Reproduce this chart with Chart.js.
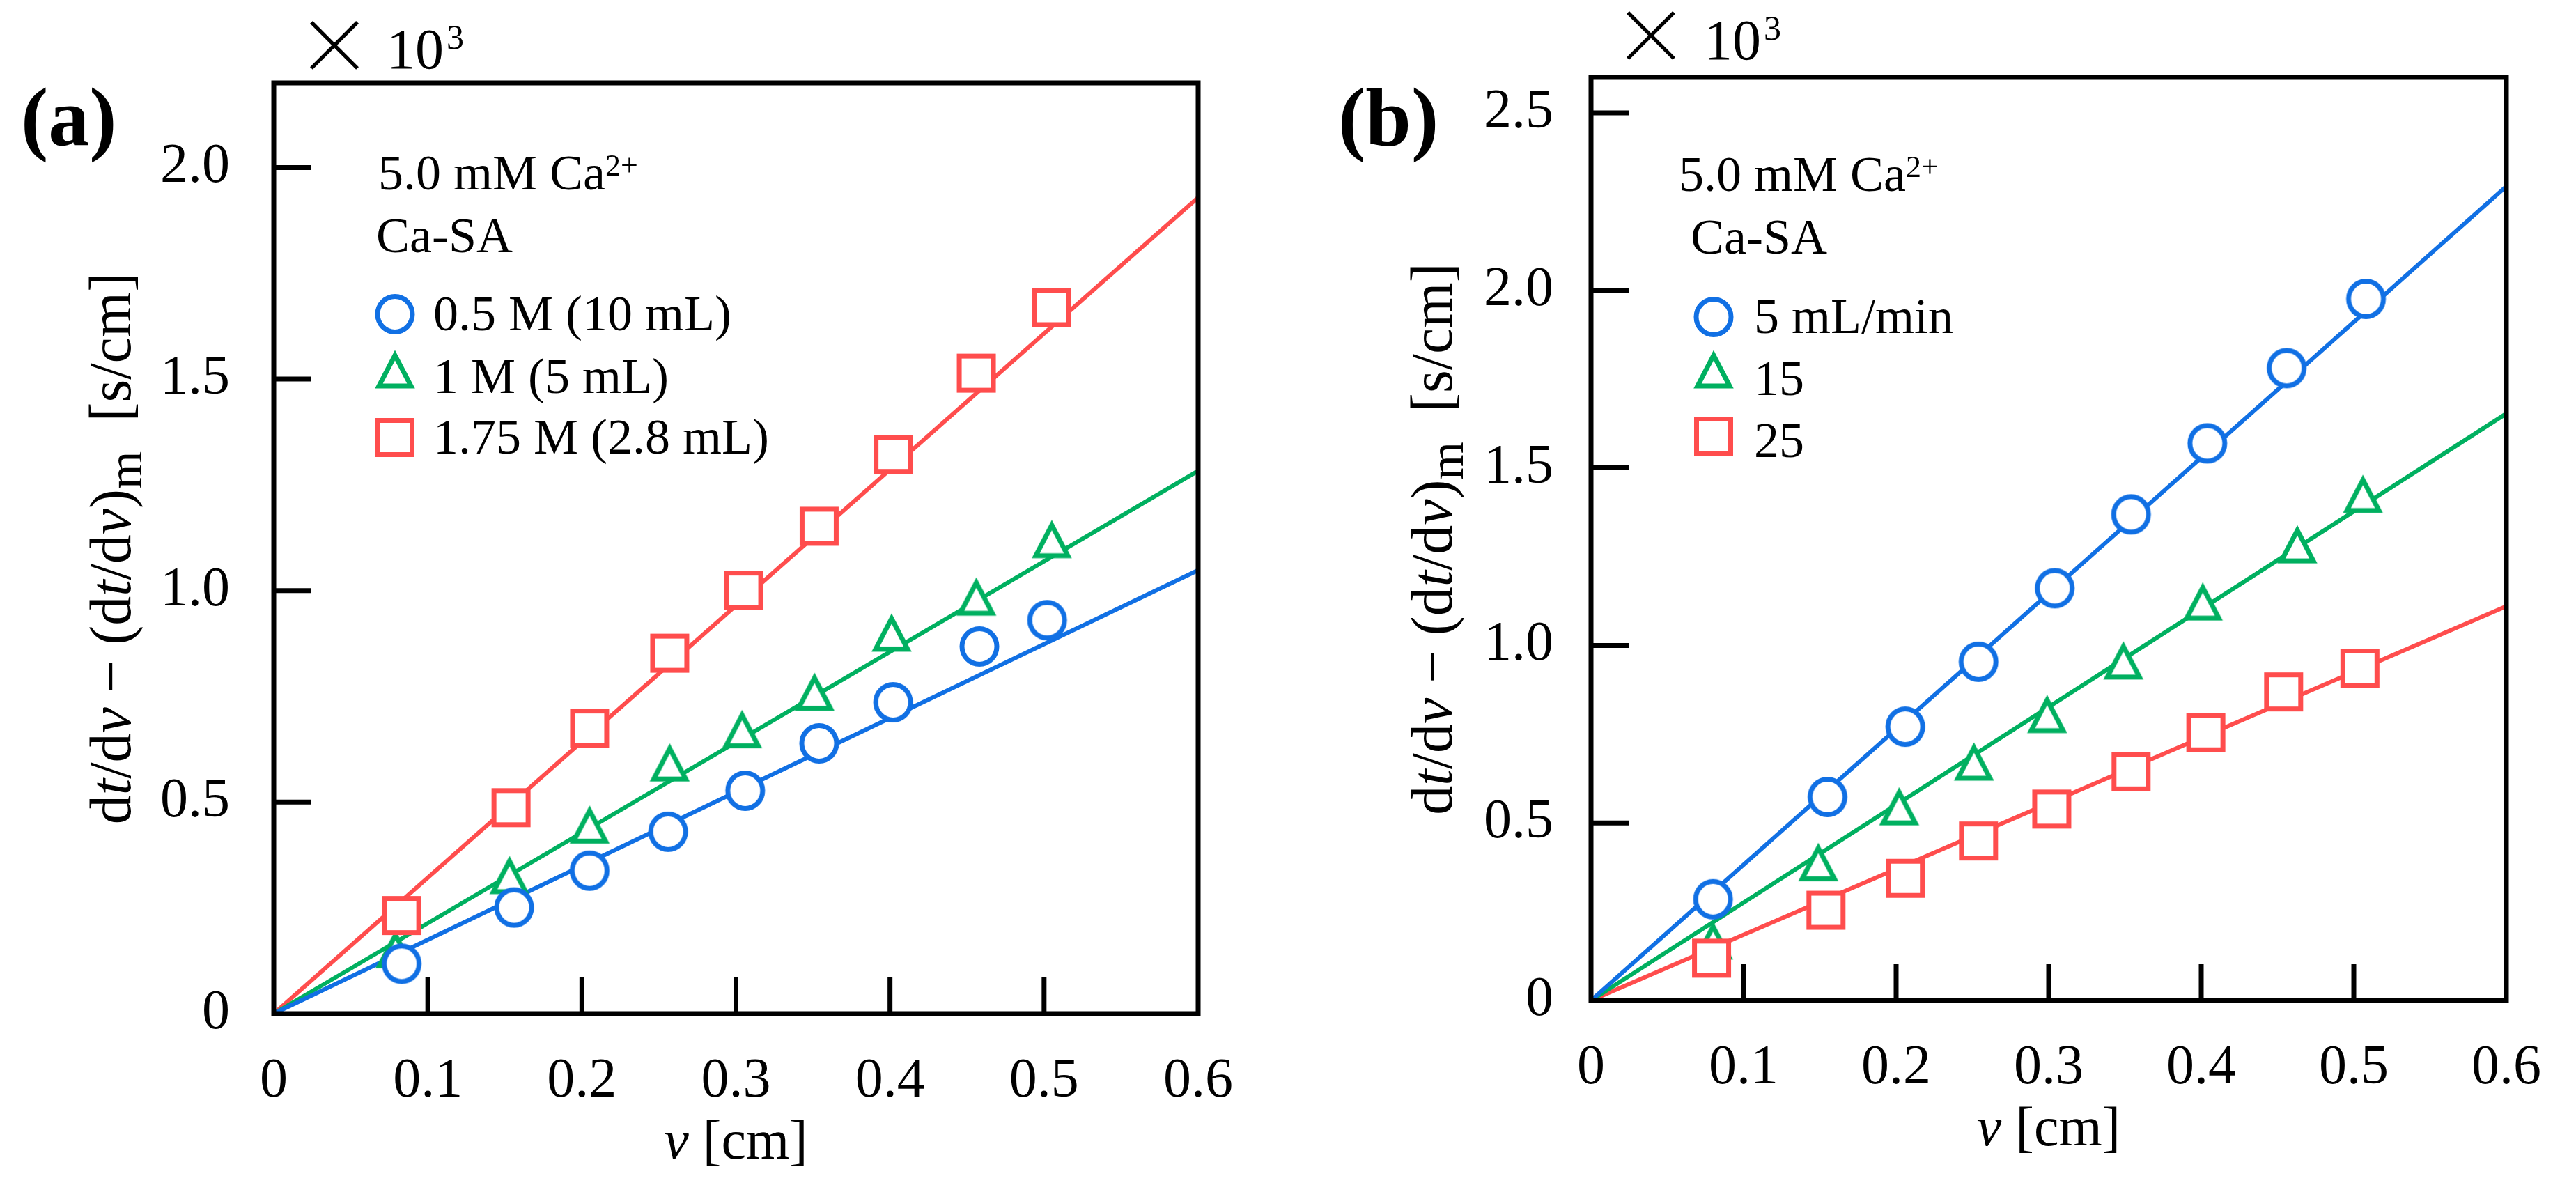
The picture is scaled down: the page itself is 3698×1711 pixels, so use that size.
<!DOCTYPE html>
<html><head><meta charset="utf-8">
<script src="https://cdn.jsdelivr.net/npm/chart.js@4.4.0/dist/chart.umd.min.js"></script>
<style>
html,body{margin:0;padding:0;background:#fff;width:3698px;height:1711px;overflow:hidden}
canvas{position:absolute;top:0}
#ca{left:0}#cb{left:1849px}
</style></head>
<body>
<canvas id="ca" width="1849" height="1711"></canvas>
<canvas id="cb" width="1849" height="1711"></canvas>
<script>
// ---------- data ----------
const xTicks = [0, 0.1, 0.2, 0.3, 0.4, 0.5, 0.6];
const xTickLabels = ['0', '0.1', '0.2', '0.3', '0.4', '0.5', '0.6'];
const yTicksA = [0, 0.5, 1.0, 1.5, 2.0];
const yTickLabelsA = ['0', '0.5', '1.0', '1.5', '2.0'];
const yTicksB = [0, 0.5, 1.0, 1.5, 2.0, 2.5];
const yTickLabelsB = ['0', '0.5', '1.0', '1.5', '2.0', '2.5'];
const xMax = 0.6, yMaxA = 2.2, yMaxB = 2.6;
const fitX = [0, 0.6];

// panel (a)
const aLabels = ['0.5 M (10 mL)', '1 M (5 mL)', '1.75 M (2.8 mL)'];
const aCircleX = [0.083, 0.156, 0.205, 0.256, 0.306, 0.354, 0.402, 0.458, 0.502];
const aCircleY = [0.118, 0.251, 0.338, 0.430, 0.527, 0.639, 0.736, 0.868, 0.930];
const aTriX = [0.079, 0.153, 0.205, 0.257, 0.304, 0.351, 0.401, 0.456, 0.505];
const aTriY = [0.153, 0.328, 0.447, 0.594, 0.673, 0.761, 0.901, 0.986, 1.122];
const aSqX = [0.083, 0.154, 0.205, 0.257, 0.305, 0.354, 0.402, 0.456, 0.505];
const aSqY = [0.232, 0.487, 0.675, 0.852, 1.001, 1.152, 1.322, 1.514, 1.669];
const aFitY = [[0, 1.048], [0, 1.283], [0, 1.929]];

// panel (b)
const bLabels = ['5 mL/min', '15', '25'];
const bCircleX = [0.080, 0.155, 0.206, 0.254, 0.304, 0.354, 0.404, 0.456, 0.508];
const bCircleY = [0.285, 0.573, 0.771, 0.954, 1.161, 1.369, 1.569, 1.781, 1.976];
const bTriX = [0.080, 0.149, 0.202, 0.251, 0.299, 0.349, 0.401, 0.463, 0.506];
const bTriY = [0.169, 0.390, 0.547, 0.673, 0.807, 0.958, 1.124, 1.285, 1.427];
const bSqX = [0.079, 0.154, 0.206, 0.254, 0.302, 0.354, 0.403, 0.454, 0.504];
const bSqY = [0.119, 0.254, 0.344, 0.449, 0.539, 0.644, 0.754, 0.869, 0.936];
const bFitY = [[0, 2.293], [0, 1.653], [0, 1.110]];

const headerMain = '5.0 mM Ca';
const headerSup = '2+';
const headerLine2 = 'Ca-SA';
const scaleFactorBase = '10';
const scaleFactorExp = '3';

// ---------- styles ----------
const BLUE = '#1170e4', GREEN = '#00b060', RED = '#ff4d4d';
const FONT = '"Liberation Serif", "Times New Roman", serif';

function marker(shape, color) {
  const c = document.createElement('canvas');
  c.width = 72; c.height = 72;
  const g = c.getContext('2d');
  g.lineWidth = 7; g.strokeStyle = color; g.fillStyle = '#fff';
  g.translate(36, 36);
  g.beginPath();
  if (shape === 'circle') g.ellipse(0, 0, 25, 25.5, 0, 0, Math.PI * 2);
  else if (shape === 'triangle') { g.moveTo(0, -20); g.lineTo(23, 24); g.lineTo(-23, 24); g.closePath(); }
  else g.rect(-24.5, -24.5, 49, 49);
  g.fill(); g.stroke();
  return c;
}
const mk = {
  circle: marker('circle', BLUE),
  triangle: marker('triangle', GREEN),
  square: marker('square', RED)
};

function pts(xs, ys) { return xs.map((x, i) => ({x: x, y: ys[i]})); }

// segment: [text, kind, size, dy]; kind: '' | 'i' | 'b' | 'script'
function rich(ctx, segs, x, y, align, size) {
  const fontOf = s => {
    const k = s[1] || '';
    let sz = size, style = '', weight = '';
    if (k === 'i') style = 'italic ';
    if (k === 'b') weight = 'bold ';
    if (k === 'script') sz = s[2] || size * 0.62;
    return style + weight + sz + 'px ' + FONT;
  };
  let total = 0;
  const ws = segs.map(s => { ctx.font = fontOf(s); const w = ctx.measureText(s[0]).width; total += w; return w; });
  let cx = align === 'center' ? x - total / 2 : (align === 'right' ? x - total : x);
  ctx.textAlign = 'left';
  ctx.textBaseline = 'alphabetic';
  segs.forEach((s, i) => {
    ctx.font = fontOf(s);
    ctx.fillText(s[0], cx, y + (s[3] || 0));
    cx += ws[i];
  });
}

const yTitle = [['d'], ['t', 'i'], ['/d'], ['v', 'i'], [' \u2212 (d'], ['t', 'i'], ['/d'], ['v', 'i'], [')'], ['m', 'script', 70, 16], ['  [s/cm]']];
const xTitle = [['v', 'i'], [' [cm]']];

function decoPlugin(d) {
  return {
    id: 'deco',
    afterDatasetsDraw(chart) {
      const ctx = chart.ctx, a = chart.chartArea;
      const xs = chart.scales.x, ys = chart.scales.y;
      ctx.save();
      ctx.fillStyle = '#000';
      ctx.strokeStyle = '#000';
      // frame
      ctx.lineWidth = 7;
      ctx.strokeRect(a.left, a.top, a.right - a.left, a.bottom - a.top);
      // inward ticks
      ctx.lineWidth = 7;
      ctx.beginPath();
      xTicks.forEach(v => {
        if (v <= 0 || v >= xMax) return;
        const p = xs.getPixelForValue(v);
        ctx.moveTo(p, a.bottom); ctx.lineTo(p, a.bottom - 52);
      });
      d.yTicks.forEach(v => {
        if (v <= 0) return;
        const p = ys.getPixelForValue(v);
        ctx.moveTo(a.left, p); ctx.lineTo(a.left + 54, p);
      });
      ctx.stroke();
      // panel letter
      ctx.font = 'bold 118px ' + FONT;
      ctx.textAlign = 'left'; ctx.textBaseline = 'alphabetic';
      ctx.fillText(d.panel, d.panelX, 208);
      // x 10^3
      ctx.font = '200 110px "Noto Sans CJK JP", "DejaVu Sans", sans-serif';
      ctx.textAlign = 'center'; ctx.textBaseline = 'middle';
      ctx.fillText('\u00d7', d.timesX, d.timesY);
      ctx.textAlign = 'left'; ctx.textBaseline = 'alphabetic';
      ctx.font = '82px ' + FONT;
      ctx.fillText(scaleFactorBase, d.tenX, d.tenBase);
      const tw = ctx.measureText(scaleFactorBase).width;
      ctx.font = '50px ' + FONT;
      ctx.fillText(scaleFactorExp, d.tenX + tw + 4, d.tenBase - 28);
      // axis titles
      rich(ctx, xTitle, (a.left + a.right) / 2, a.bottom + 208, 'center', 80);
      ctx.save();
      ctx.translate(d.yTitleX, (a.top + a.bottom) / 2);
      ctx.rotate(-Math.PI / 2);
      rich(ctx, yTitle, 0, 0, 'center', 84);
      ctx.restore();
      // legend header
      rich(ctx, [[headerMain], [headerSup, 'script', 44, -20]], d.hdrX, d.hdrBase, 'left', 72);
      rich(ctx, [[headerLine2]], d.hdr2X, d.hdr2Base, 'left', 72);
      // legend entries from datasets
      let k = 0;
      chart.data.datasets.forEach(ds => {
        if (ds.isFit) return;
        const img = ds.pointStyle;
        const cy = d.legMarkY[k];
        ctx.drawImage(img, d.legMarkX - img.width / 2, cy - img.height / 2);
        rich(ctx, [[ds.label]], d.legTextX, d.legBase[k], 'left', 72);
        k++;
      });
      ctx.restore();
    }
  };
}

function makeChart(id, cfg) {
  const series = [
    {label: cfg.labels[0], data: pts(cfg.cx, cfg.cy), pointStyle: mk.circle, order: 1},
    {label: cfg.labels[1], data: pts(cfg.tx, cfg.ty), pointStyle: mk.triangle, order: 3},
    {label: cfg.labels[2], data: pts(cfg.sx, cfg.sy), pointStyle: mk.square, order: 2}
  ].map(s => Object.assign(s, {showLine: false, pointRadius: 28, pointHoverRadius: 28}));
  const fits = [BLUE, GREEN, RED].map((c, i) => ({
    label: 'fit' + i, isFit: true, data: pts(fitX, cfg.fit[i]), showLine: true,
    borderColor: c, borderWidth: 6, pointRadius: 0, order: 10, clip: false
  }));
  return new Chart(document.getElementById(id), {
    type: 'scatter',
    data: {datasets: series.concat(fits)},
    options: {
      responsive: false, animation: false, devicePixelRatio: 1,
      layout: {padding: {top: cfg.top, right: cfg.right, left: 0, bottom: 0}},
      plugins: {legend: {display: false}, tooltip: {enabled: false}},
      scales: {
        x: {
          type: 'linear', min: 0, max: xMax,
          grid: {display: false, drawTicks: false}, border: {display: false},
          afterBuildTicks: s => { s.ticks = xTicks.map(v => ({value: v})); },
          afterFit: s => { s.height = 1711 - cfg.bottom; },
          ticks: {font: {family: FONT, size: 80}, color: '#000', padding: cfg.xPad, maxRotation: 0, autoSkip: false,
                  callback: (v, i) => xTickLabels[i]}
        },
        y: {
          type: 'linear', min: 0, max: cfg.yMax,
          grid: {display: false, drawTicks: false}, border: {display: false},
          afterBuildTicks: s => { s.ticks = cfg.yTicks.map(v => ({value: v})); },
          afterFit: s => { s.width = cfg.left; },
          ticks: {font: {family: FONT, size: 80}, color: '#000', padding: cfg.yPad, autoSkip: false,
                  callback: (v, i) => cfg.yTickLabels[i]}
        }
      }
    },
    plugins: [decoPlugin(cfg.deco)]
  });
}

makeChart('ca', {
  labels: aLabels, cx: aCircleX, cy: aCircleY, tx: aTriX, ty: aTriY, sx: aSqX, sy: aSqY, fit: aFitY,
  yMax: yMaxA, yTicks: yTicksA, yTickLabels: yTickLabelsA,
  top: 119, right: 1849 - 1720, left: 393, bottom: 1455, xPad: 50, yPad: 63,
  deco: {panel: '(a)', panelX: 30, timesX: 480, timesY: 64, tenX: 555, tenBase: 98, yTitleX: 187, yTicks: yTicksA,
         hdrX: 543, hdrBase: 272, hdr2X: 540, hdr2Base: 362, legMarkX: 567, legMarkY: [451, 530, 628],
         legTextX: 622, legBase: [474, 564, 651]}
});
makeChart('cb', {
  labels: bLabels, cx: bCircleX, cy: bCircleY, tx: bTriX, ty: bTriY, sx: bSqX, sy: bSqY, fit: bFitY,
  yMax: yMaxB, yTicks: yTicksB, yTickLabels: yTickLabelsB,
  top: 111, right: 1849 - 1774, left: 435, bottom: 1436, xPad: 50, yPad: 54,
  deco: {panel: '(b)', panelX: 72, timesX: 521, timesY: 50, tenX: 597, tenBase: 85, yTitleX: 235, yTicks: yTicksB,
         hdrX: 561, hdrBase: 274, hdr2X: 578, hdr2Base: 364, legMarkX: 611, legMarkY: [455, 530, 626],
         legTextX: 669, legBase: [478, 567, 656]}
});
</script>
</body></html>
